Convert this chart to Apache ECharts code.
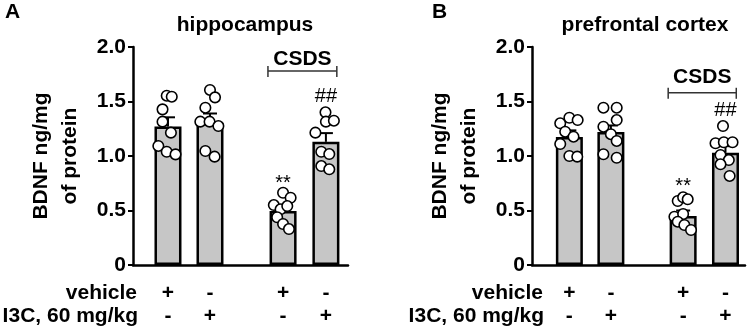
<!DOCTYPE html>
<html><head><meta charset="utf-8">
<script src="https://cdn.jsdelivr.net/npm/echarts@6/dist/echarts.min.js"></script>
<style>html,body{margin:0;padding:0;background:#fff}#c{width:747px;height:330px}</style>
</head><body><div id="c"></div>
<script>
// ---------- data ----------
const panelLetters = ['A', 'B'];
const panelTitles = ['hippocampus', 'prefrontal cortex'];
const yAxisName = 'BDNF ng/mg\nof protein';
const rowLabels = ['vehicle', 'I3C, 60 mg/kg'];
const vehicleRow = ['+', '-', '+', '-'];
const i3cRow = ['-', '+', '-', '+'];
const yTicks = [0, 0.5, 1.0, 1.5, 2.0];
const groupLabel = 'CSDS';

// Panel A: hippocampus
const meansA = [1.27, 1.305, 0.495, 1.13];
const semA = [0.085, 0.085, 0.055, 0.08];
const ptsA1 = [1.553, 1.544, 1.428, 1.315, 1.214, 1.092, 1.039, 1.015];
const ptsA2 = [1.606, 1.538, 1.443, 1.315, 1.315, 1.275, 1.046, 0.994];
const ptsA3 = [0.663, 0.617, 0.550, 0.511, 0.541, 0.438, 0.376, 0.330];
const ptsA4 = [1.401, 1.315, 1.324, 1.214, 1.039, 1.018, 0.908, 0.878];
const jitA1 = [-0.03, 0.09, -0.13, -0.13, 0.07, -0.23, -0.03, 0.18];
const jitA2 = [0.00, 0.12, -0.11, -0.23, -0.01, 0.20, -0.11, 0.11];
const jitA3 = [0.00, 0.18, -0.22, -0.06, 0.10, -0.14, 0.00, 0.14];
const jitA4 = [-0.01, 0.00, 0.19, -0.25, -0.11, 0.08, -0.11, 0.08];
const starsA = ['', '', '**', '##'];
const starYA = [0, 0, 0.745, 1.55];
const bracketYA = 1.78, bracketTextYA = 1.885;

// Panel B: prefrontal cortex
const meansB = [1.175, 1.22, 0.45, 1.03];
const semB = [0.06, 0.06, 0.05, 0.06];
const ptsB1 = [1.300, 1.351, 1.330, 1.223, 1.177, 1.110, 1.000, 0.994];
const ptsB2 = [1.443, 1.443, 1.330, 1.269, 1.200, 1.138, 1.016, 0.984];
const ptsB3 = [0.587, 0.621, 0.603, 0.443, 0.468, 0.397, 0.367, 0.321];
const ptsB4 = [1.275, 1.117, 1.126, 1.126, 1.009, 0.963, 0.924, 0.817];
const jitB1 = [-0.22, 0.00, 0.20, -0.10, 0.10, -0.22, 0.00, 0.19];
const jitB2 = [-0.18, 0.14, 0.14, -0.18, 0.00, 0.14, -0.18, 0.14];
const jitB3 = [-0.13, 0.00, 0.11, -0.21, 0.00, -0.13, 0.03, 0.19];
const jitB4 = [-0.06, -0.24, -0.04, 0.17, -0.12, 0.08, -0.12, 0.10];
const starsB = ['', '', '**', '##'];
const starYB = [0, 0, 0.716, 1.413];
const bracketYB = 1.58, bracketTextYB = 1.72;

// ---------- layout / style ----------
const FONT = 'Liberation Sans, Arial, sans-serif';
const groupX = [1, 2, 3.74, 4.76];
const panels = [
  {grid: {left: 133, top: 47, width: 215, height: 218}, xMin: 0.167, xMax: 5.286,
   means: meansA, sem: semA, pts: [ptsA1, ptsA2, ptsA3, ptsA4], jit: [jitA1, jitA2, jitA3, jitA4],
   stars: starsA, starY: starYA, bY: bracketYA, bTY: bracketTextYA},
  {grid: {left: 532, top: 47, width: 213, height: 218}, xMin: 0.10, xMax: 5.23,
   means: meansB, sem: semB, pts: [ptsB1, ptsB2, ptsB3, ptsB4], jit: [jitB1, jitB2, jitB3, jitB4],
   stars: starsB, starY: starYB, bY: bracketYB, bTY: bracketTextYB}
];

const grids = [], xAxes = [], yAxes = [], series = [];
panels.forEach((p, k) => {
  grids.push(Object.assign({containLabel: false}, p.grid));
  xAxes.push({
    type: 'value', gridIndex: k, min: p.xMin, max: p.xMax,
    axisLine: {show: true, onZero: false, lineStyle: {color: '#000', width: 2.5}},
    axisTick: {show: false}, axisLabel: {show: false}, splitLine: {show: false}
  });
  yAxes.push({
    type: 'value', gridIndex: k, min: yTicks[0], max: yTicks[yTicks.length - 1],
    interval: yTicks[1] - yTicks[0],
    axisLine: {show: true, lineStyle: {color: '#000', width: 2.5}},
    axisTick: {show: true, length: 5, lineStyle: {color: '#000', width: 2}},
    axisLabel: {color: '#000', fontSize: 21, fontWeight: 'bold', fontFamily: FONT, margin: 7,
      formatter: v => v === 0 ? '0' : v.toFixed(1)},
    splitLine: {show: false},
    name: yAxisName, nameLocation: 'middle', nameGap: 48,
    nameTextStyle: {color: '#000', fontSize: 21, fontWeight: 'bold', fontFamily: FONT, lineHeight: 29}
  });
  // bars
  series.push({
    type: 'bar', xAxisIndex: k, yAxisIndex: k, silent: true, barWidth: 27,
    data: p.means.map((m, i) => [groupX[i], m]),
    itemStyle: {color: '#c6c6c6', borderColor: '#000', borderWidth: 2.5}
  });
  // error bars (upper)
  series.push({
    type: 'custom', xAxisIndex: k, yAxisIndex: k, silent: true, z: 3,
    data: p.means.map((m, i) => [groupX[i], m, p.sem[i]]),
    renderItem: (params, api) => {
      const x = api.value(0), m = api.value(1), s = api.value(2);
      const b = api.coord([x, m]), t = api.coord([x, m + s]);
      const st = {stroke: '#000', lineWidth: 2};
      return {type: 'group', children: [
        {type: 'line', shape: {x1: b[0], y1: b[1], x2: t[0], y2: t[1]}, style: st},
        {type: 'line', shape: {x1: t[0] - 7, y1: t[1], x2: t[0] + 7, y2: t[1]}, style: st}
      ]};
    }
  });
  // individual points
  const pd = [];
  p.pts.forEach((arr, i) => arr.forEach((v, j) => pd.push([groupX[i] + p.jit[i][j], v])));
  series.push({
    type: 'scatter', xAxisIndex: k, yAxisIndex: k, silent: true, z: 4,
    symbol: 'circle', symbolSize: 10.5, data: pd,
    itemStyle: {color: '#fff', borderColor: '#000', borderWidth: 1.6, opacity: 1}
  });
  // significance marks
  series.push({
    type: 'custom', xAxisIndex: k, yAxisIndex: k, silent: true, z: 5, clip: false,
    data: p.stars.map((s, i) => [groupX[i], p.starY[i]]),
    renderItem: (params, api) => {
      const txt = p.stars[params.dataIndex];
      if (!txt) return null;
      const c = api.coord([api.value(0), api.value(1)]);
      return {type: 'text', x: c[0], y: c[1], style: {text: txt, fill: '#000',
        font: '20px ' + FONT, textAlign: 'center', textVerticalAlign: 'middle'}};
    }
  });
  // CSDS bracket
  series.push({
    type: 'custom', xAxisIndex: k, yAxisIndex: k, silent: true, z: 5, clip: false,
    data: [[groupX[2] - 0.36, groupX[3] + 0.26, p.bY, p.bTY]],
    renderItem: (params, api) => {
      const l = api.coord([api.value(0), api.value(2)]);
      const r = api.coord([api.value(1), api.value(2)]);
      const tt = api.coord([(api.value(0) + api.value(1)) / 2, api.value(3)]);
      const st = {stroke: '#333', lineWidth: 1.5};
      return {type: 'group', children: [
        {type: 'line', shape: {x1: l[0], y1: l[1], x2: r[0], y2: r[1]}, style: st},
        {type: 'line', shape: {x1: l[0], y1: l[1] - 5, x2: l[0], y2: l[1] + 6}, style: st},
        {type: 'line', shape: {x1: r[0], y1: r[1] - 5, x2: r[0], y2: r[1] + 6}, style: st},
        {type: 'text', x: tt[0], y: tt[1], style: {text: groupLabel, fill: '#000',
          font: 'bold 21px ' + FONT, textAlign: 'center', textVerticalAlign: 'middle'}}
      ]};
    }
  });
  // treatment rows (+ / -)
  series.push({
    type: 'custom', xAxisIndex: k, yAxisIndex: k, silent: true, z: 5, clip: false,
    data: groupX.map(x => [x, 0]),
    renderItem: (params, api) => {
      const c = api.coord([api.value(0), 0]);
      const f = 'bold 21px ' + FONT;
      return {type: 'group', children: [
        {type: 'text', x: c[0], y: c[1] + 28, style: {text: vehicleRow[params.dataIndex], fill: '#000',
          font: f, textAlign: 'center', textVerticalAlign: 'middle'}},
        {type: 'text', x: c[0], y: c[1] + 51, style: {text: i3cRow[params.dataIndex], fill: '#000',
          font: f, textAlign: 'center', textVerticalAlign: 'middle'}}
      ]};
    }
  });
});

const txt = (text, x, y, size, align, weight) => ({
  type: 'text', x: x, y: y, silent: true,
  style: {text: text, fill: '#000', font: (weight || 'bold') + ' ' + size + 'px ' + FONT,
    textAlign: align, textVerticalAlign: 'middle'}
});

const graphics = [
  txt(panelLetters[0], 5, 12, 21, 'left'),
  txt(panelLetters[1], 432, 12, 21, 'left'),
  txt(panelTitles[0], 245, 25, 21, 'center'),
  txt(panelTitles[1], 645, 25, 21, 'center'),
  txt(rowLabels[0], 137, 293, 21, 'right'),
  txt(rowLabels[1], 138, 316, 21, 'right'),
  txt(rowLabels[0], 543, 293, 21, 'right'),
  txt(rowLabels[1], 544, 316, 21, 'right')
];

const chart = echarts.init(document.getElementById('c'), null, {renderer: 'canvas'});
chart.setOption({
  animation: false,
  backgroundColor: '#fff',
  grid: grids, xAxis: xAxes, yAxis: yAxes, series: series,
  graphic: graphics
});
</script></body></html>
